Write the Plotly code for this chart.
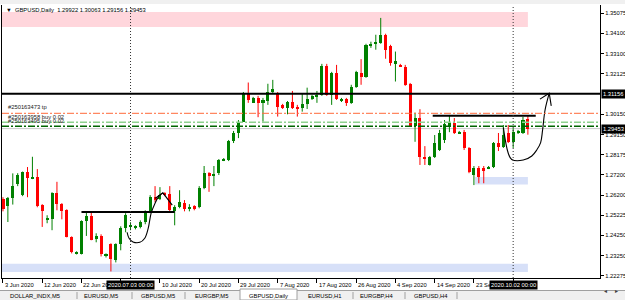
import plotly.graph_objects as go

# ---------------- data (GBPUSD Daily, incl. Sunday sessions, 3 Jun .. 6 Oct 2020) ----------------
opens = [1.2601,1.2568,1.2605,1.2673,1.2621,1.2733,1.2702,1.2709,1.2572,1.2503,
         1.2503,1.2632,1.2577,1.2547,1.2417,1.2337,1.2335,1.2494,1.2518,1.2406,
         1.2420,1.2322,1.2381,1.2303,1.2381,1.2459,1.2464,1.2459,1.2466,1.2489,
         1.2537,1.2611,1.2601,1.2631,1.2626,1.2544,1.2563,1.2583,1.2555,1.2567,
         1.2563,1.2656,1.2727,1.2719,1.2727,1.2792,1.2792,1.2885,1.2922,1.2979,
         1.3118,1.3072,1.3097,1.3072,1.3082,1.3124,1.3113,1.3061,1.3045,1.3074,
         1.3052,1.3045,1.3066,1.3089,1.3100,1.3110,1.3253,1.3110,1.3216,1.3080,
         1.3090,1.3069,1.3150,1.3216,1.3199,1.3346,1.3356,1.3363,1.3403,1.3349,
         1.3261,1.3256,1.3248,1.3164,1.2958,1.2996,1.2808,1.2768,1.2805,1.2841,
         1.2890,1.2958,1.2974,1.2922,1.2930,1.2849,1.2719,1.2751,1.2751,1.2753,
         1.2759,1.2874,1.2857,1.2924,1.2881,1.2924,1.2922,1.29922]
highs = [1.2611,1.2612,1.2727,1.2728,1.2736,1.2758,1.2808,1.2748,1.2577,1.2523,
         1.2635,1.2686,1.2582,1.2552,1.2420,1.2347,1.2498,1.2537,1.2537,1.2435,
         1.2430,1.2337,1.2386,1.2386,1.2469,1.2533,1.2489,1.2474,1.2498,1.2547,
         1.2621,1.2665,1.2660,1.2635,1.2665,1.2572,1.2645,1.2597,1.2577,1.2572,
         1.2665,1.2763,1.2733,1.2763,1.2797,1.2802,1.2890,1.2934,1.2987,1.3124,
         1.3170,1.3100,1.3105,1.3095,1.3164,1.3183,1.3124,1.3066,1.3080,1.3129,
         1.3061,1.3118,1.3145,1.3110,1.3129,1.3261,1.3261,1.3222,1.3256,1.3095,
         1.3095,1.3159,1.3227,1.3284,1.3359,1.3369,1.3403,1.3485,1.3408,1.3354,
         1.3321,1.3261,1.3256,1.3168,1.3023,1.3040,1.2860,1.2812,1.2914,1.2939,
         1.2987,1.3012,1.2997,1.2934,1.2939,1.2855,1.2763,1.2763,1.2763,1.2763,
         1.2880,1.2924,1.2963,1.2963,1.2948,1.2939,1.3002,1.30063]
lows = [1.2542,1.2490,1.2575,1.2665,1.2616,1.2611,1.2699,1.2562,1.2466,1.2484,
        1.2450,1.2547,1.2503,1.2415,1.2337,1.2332,1.2332,1.2422,1.2401,1.2391,
        1.2322,1.2317,1.2249,1.2293,1.2352,1.2440,1.2450,1.2454,1.2459,1.2479,
        1.2533,1.2587,1.2597,1.2616,1.2542,1.2474,1.2557,1.2542,1.2542,1.2547,
        1.2557,1.2650,1.2637,1.2665,1.2719,1.2787,1.2787,1.2875,1.2899,1.2978,
        1.3071,1.3071,1.3001,1.2979,1.3061,1.3119,1.3004,1.3041,1.3015,1.3041,
        1.3004,1.3028,1.3041,1.3085,1.3071,1.3105,1.3105,1.3061,1.3085,1.3075,
        1.3056,1.3066,1.3144,1.3159,1.3193,1.3339,1.3330,1.3359,1.3286,1.3252,
        1.3175,1.3247,1.3154,1.2953,1.2881,1.2768,1.2768,1.2765,1.2802,1.2836,
        1.2875,1.2928,1.2919,1.2919,1.2841,1.2728,1.2670,1.2679,1.2679,1.2748,
        1.2753,1.2836,1.2851,1.2875,1.2851,1.2919,1.2919,1.29156]
closes = [1.2552,1.2605,1.2665,1.2719,1.2733,1.2704,1.2710,1.2567,1.2542,1.2505,
          1.2632,1.2580,1.2544,1.2417,1.2343,1.2342,1.2494,1.2518,1.2404,1.2420,
          1.2332,1.2332,1.2308,1.2381,1.2459,1.2523,1.2474,1.2469,1.2490,1.2537,
          1.2611,1.2597,1.2621,1.2621,1.2547,1.2563,1.2588,1.2552,1.2563,1.2552,
          1.2656,1.2727,1.2719,1.2723,1.2792,1.2795,1.2885,1.2925,1.2979,1.3118,
          1.3085,1.3097,1.3072,1.3085,1.3126,1.3139,1.3052,1.3048,1.3074,1.3048,
          1.3041,1.3066,1.3089,1.3105,1.3105,1.3253,1.3110,1.3216,1.3089,1.3090,
          1.3069,1.3150,1.3219,1.3199,1.3354,1.3359,1.3366,1.3403,1.3330,1.3265,
          1.3277,1.3248,1.3159,1.2955,1.2996,1.2805,1.2800,1.2807,1.2876,1.2922,
          1.2968,1.2973,1.2922,1.2925,1.2849,1.2735,1.2753,1.2710,1.2743,1.2760,
          1.2874,1.2857,1.2914,1.2881,1.2930,1.2931,1.2987,1.29453]

# date ticks every 8 bars; labels at bars 24 and 104 lie under the separator boxes
date_tick_idx = [0, 8, 16, 24, 32, 40, 48, 56, 64, 72, 80, 88, 96, 104]
date_label_idx = [0, 8, 16, 32, 40, 48, 56, 64, 72, 80, 88, 96]
date_tick_labels = ["3 Jun 2020", "12 Jun 2020", "22 Jun 2020", "10 Jul 2020",
                    "20 Jul 2020", "29 Jul 2020", "7 Aug 2020", "17 Aug 2020", "26 Aug 2020",
                    "4 Sep 2020", "14 Sep 2020", "23 Sep 2020"]
price_ticks = [1.35075, 1.34100, 1.33100, 1.32125, 1.30150, 1.29150,
               1.28175, 1.27200, 1.26200, 1.25225, 1.24250, 1.23250, 1.22275]

# chart objects (levels, zones, order lines)
resistance_level = 1.31156
bid_price = 1.29453
tp_level = 1.3020
buy_levels = [1.2976, 1.2957]
buy_colors = ["#8fd18f", "#006400"]
supply_zone = (1.34408, 1.35141)
demand_zone = (1.2246, 1.2287)
demand_zone2 = (1.2673, 1.2710)
range_line1 = (16.0, 35.0, 1.2539)
range_line2 = (87.6, 108.6, 1.3008)
separators = [(26, "2020.07.03 00:00"), (104, "2020.10.02 00:00")]

# hand-drawn arrows (bar index, price)
arrow1_x = [25.3, 25.7, 26.5, 27.9, 28.9, 29.6, 30.2, 31.0, 31.8, 32.6]
arrow1_y = [1.2440, 1.2411, 1.2393, 1.2391, 1.2411, 1.2459, 1.2533, 1.2582, 1.2616, 1.2632]
arrow1_head_x = [31.0, 32.6, 34.5]
arrow1_head_y = [1.2605, 1.2632, 1.2572]
arrow2_x = [102.0, 103.0, 103.7, 106.05, 107.8, 108.8, 109.6, 110.0, 110.5, 111.35]
arrow2_y = [1.2950, 1.2825, 1.2795, 1.2792, 1.2812, 1.2841, 1.2877, 1.2939, 1.3036, 1.3118]
arrow2_head_x = [109.46, 111.35, 111.76]
arrow2_head_y = [1.3089, 1.3118, 1.3056]

tabs = ["DOLLAR_INDX,M5", "EURUSD,M5", "GBPUSD,M5", "EURGBP,M5", "GBPUSD,Daily",
        "EURUSD,H1", "EURGBP,H4", "GBPUSD,H4"]
tab_centers = [35, 101, 158, 211, 268, 325, 377, 431]
tab_edges = [77, 132, 185, 240, 297, 353, 405, 457]

# ---------------- figure ----------------
W, H = 625, 300
def fx(p): return p / W
def fy(p): return 1 - p / H

FONT = "Liberation Sans"
FS = 5.8
GREEN = "#008000"
RED = "#ff0000"

fig = go.Figure()

n = len(opens)
for up, col in ((True, GREEN), (False, RED)):
    xs, base, hgt, wx, wy = [], [], [], [], []
    for i in range(n):
        o, h, l, c = opens[i], highs[i], lows[i], closes[i]
        if (c >= o) != up:
            continue
        lo, hi = min(o, c), max(o, c)
        if hi - lo < 0.00025:
            mid = (hi + lo) / 2
            lo, hi = mid - 0.000125, mid + 0.000125
        xs.append(i); base.append(lo); hgt.append(hi - lo)
        wx += [i, i, None]; wy += [l, h, None]
    fig.add_trace(go.Scatter(x=wx, y=wy, mode="lines", line=dict(color=col, width=1),
                             hoverinfo="skip", showlegend=False))
    fig.add_trace(go.Bar(x=xs, y=hgt, base=base, width=0.62, marker=dict(color=col, line=dict(width=0)),
                         hoverinfo="skip", showlegend=False))

# hand drawn arrows
for ax_, ay_ in ((arrow1_x, arrow1_y), (arrow2_x, arrow2_y)):
    fig.add_trace(go.Scatter(x=ax_, y=ay_, mode="lines", line=dict(color="black", width=1.1, shape="spline"),
                             hoverinfo="skip", showlegend=False))
for ax_, ay_ in ((arrow1_head_x, arrow1_head_y), (arrow2_head_x, arrow2_head_y)):
    fig.add_trace(go.Scatter(x=ax_, y=ay_, mode="lines", line=dict(color="black", width=1.1),
                             hoverinfo="skip", showlegend=False))

shapes = []
# zones
shapes.append(dict(type="rect", xref="x", yref="y", x0=-1, x1=107, y0=supply_zone[0], y1=supply_zone[1],
                   fillcolor="#ffd6dc", line=dict(width=0), layer="below"))
shapes.append(dict(type="rect", xref="x", yref="y", x0=-1, x1=107, y0=demand_zone[0], y1=demand_zone[1],
                   fillcolor="#d7e0f8", line=dict(width=0), layer="below"))
shapes.append(dict(type="rect", xref="x", yref="y", x0=96.2, x1=107, y0=demand_zone2[0], y1=demand_zone2[1],
                   fillcolor="#d7e0f8", line=dict(width=0), layer="below"))
# bid line
shapes.append(dict(type="line", xref="x domain", yref="y", x0=0, x1=1, y0=bid_price, y1=bid_price,
                   line=dict(color="#c8c8c8", width=1), layer="below"))
# order lines
shapes.append(dict(type="line", xref="x domain", yref="y", x0=0, x1=1, y0=tp_level, y1=tp_level,
                   line=dict(color="#ff6a3a", width=1, dash="7px,2px,2px,2px")))
for lv, col in zip(buy_levels, buy_colors):
    shapes.append(dict(type="line", xref="x domain", yref="y", x0=0, x1=1, y0=lv, y1=lv,
                       line=dict(color=col, width=1.5, dash="7px,2px,2px,2px")))
# horizontal resistance line
shapes.append(dict(type="line", xref="x domain", yref="y", x0=0, x1=1, y0=resistance_level, y1=resistance_level,
                   line=dict(color="black", width=2)))
# short range lines
for x0, x1, lv in (range_line1, range_line2):
    shapes.append(dict(type="line", xref="x", yref="y", x0=x0, x1=x1, y0=lv, y1=lv,
                       line=dict(color="black", width=2)))
# period separators
for xi, _ in separators:
    shapes.append(dict(type="line", xref="x", yref="y domain", x0=xi, x1=xi, y0=0, y1=1,
                       line=dict(color="#333333", width=1, dash="1px,2px")))
# top strip
shapes.append(dict(type="rect", xref="paper", yref="paper", x0=0, x1=1, y0=fy(4), y1=1,
                   fillcolor="#f0f0f0", line=dict(width=0)))
# tab bar
shapes.append(dict(type="rect", xref="paper", yref="paper", x0=0, x1=1, y0=0, y1=fy(290),
                   fillcolor="#f0f0f0", line=dict(width=0)))
shapes.append(dict(type="line", xref="paper", yref="paper", x0=0, x1=1, y0=fy(290.5), y1=fy(290.5),
                   line=dict(color="#a0a0a0", width=1)))
for e in tab_edges:
    if e in (240, 297):
        continue
    shapes.append(dict(type="line", xref="paper", yref="paper", x0=fx(e), x1=fx(e), y0=fy(299), y1=fy(292),
                       line=dict(color="#a0a0a0", width=1)))
shapes.append(dict(type="rect", xref="paper", yref="paper", x0=fx(240), x1=fx(297), y0=0, y1=fy(289),
                   fillcolor="white", line=dict(color="#a0a0a0", width=1)))

annotations = []
annotations.append(dict(xref="paper", yref="paper", x=fx(4), y=fy(10), xanchor="left", yanchor="middle",
                        text="▼  GBPUSD,Daily  1.29922 1.30063 1.29156 1.29453", showarrow=False,
                        font=dict(family=FONT, size=FS, color="black")))
annotations.append(dict(xref="paper", yref="y", x=fx(6), y=tp_level, xanchor="left", yanchor="bottom", yshift=1,
                        text="#250163473 tp", showarrow=False, font=dict(family=FONT, size=FS, color="#202020")))
annotations.append(dict(xref="paper", yref="y", x=fx(6), y=buy_levels[0], xanchor="left", yanchor="bottom",
                        text="#250163958 buy 0.02", showarrow=False, font=dict(family=FONT, size=FS, color="#202020")))
annotations.append(dict(xref="paper", yref="y", x=fx(6), y=buy_levels[1], xanchor="left", yanchor="bottom",
                        text="#250163495 buy 0.02", showarrow=False, font=dict(family=FONT, size=FS, color="#202020")))
# price boxes on the axis
for lv in (resistance_level, bid_price):
    annotations.append(dict(xref="paper", yref="y", x=fx(601), y=lv, xanchor="left", yanchor="middle",
                            text=f"{lv:.5f}", showarrow=False, bgcolor="black", borderpad=1,
                            font=dict(family=FONT, size=FS, color="white")))
# date labels
for xi, lab in zip(date_label_idx, date_tick_labels):
    annotations.append(dict(xref="x", yref="paper", x=xi, y=fy(285), xanchor="left", yanchor="middle",
                            xshift=0, text=lab, showarrow=False, font=dict(family=FONT, size=FS, color="black")))
for xi, lab in separators:
    annotations.append(dict(xref="x", yref="paper", x=xi, y=fy(285), xanchor="center", yanchor="middle",
                            text=lab, showarrow=False, bgcolor="black", borderpad=1,
                            font=dict(family=FONT, size=FS, color="white")))
# tabs
for c, t in zip(tab_centers, tabs):
    annotations.append(dict(xref="paper", yref="paper", x=fx(c), y=fy(296), xanchor="center", yanchor="middle",
                            text=t, showarrow=False, font=dict(family=FONT, size=FS, color="black")))
annotations.append(dict(xref="paper", yref="paper", x=fx(609), y=fy(296), text="◂", showarrow=False,
                        font=dict(family=FONT, size=FS, color="#404040")))
annotations.append(dict(xref="paper", yref="paper", x=fx(620), y=fy(296), text="▸", showarrow=False,
                        font=dict(family=FONT, size=FS, color="#404040")))

fig.update_layout(
    width=W, height=H, margin=dict(l=0, r=0, t=0, b=0),
    paper_bgcolor="white", plot_bgcolor="white",
    barmode="overlay", bargap=0, showlegend=False,
    shapes=shapes, annotations=annotations,
    xaxis=dict(domain=[fx(2), fx(600)], range=[-0.2, 121.7], showgrid=False, zeroline=False,
               showline=True, linecolor="black", linewidth=1, ticks="outside", ticklen=4,
               tickcolor="black", tickvals=date_tick_idx, showticklabels=False, fixedrange=True),
    yaxis=dict(domain=[1 - 278 / H, 1 - 5 / H], range=[1.2217, 1.3548], side="right", showgrid=False,
               zeroline=False, showline=True, mirror=True, linecolor="black", linewidth=1,
               ticks="outside", ticklen=3, tickcolor="black", tickvals=price_ticks,
               ticktext=[f"{v:.5f}" for v in price_ticks],
               tickfont=dict(family=FONT, size=FS, color="black"), fixedrange=True),
)

fig.write_html("out.html")
